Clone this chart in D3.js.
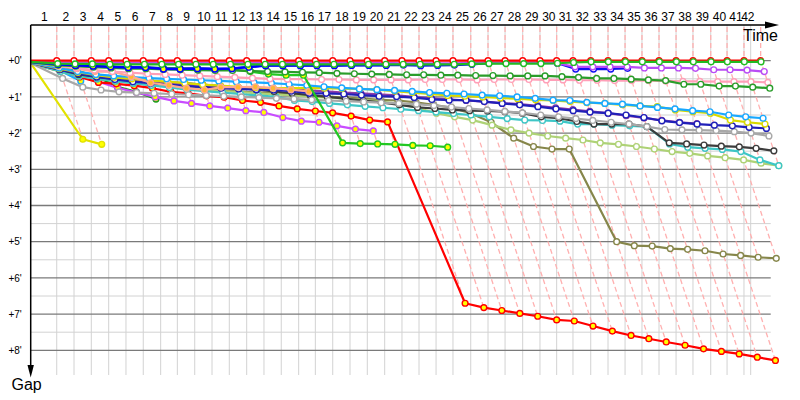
<!DOCTYPE html>
<html><head><meta charset="utf-8">
<script src="https://cdn.jsdelivr.net/npm/d3@7/dist/d3.min.js"></script>
<style>body{margin:0;background:#fff}svg{display:block}text{font-family:"Liberation Sans",Arial,sans-serif}</style>
</head><body><svg id="c" width="800" height="400"></svg>
<script>
// ---------- data ----------
const lapLabels = ["1","2","3","4","5","6","7","8","9","10","11","12","13","14","15","16","17","18","19","20","21","22","23","24","25","26","27","28","29","30","31","32","33","34","35","36","37","38","39","40","41","42"];
// leader cumulative time (minutes) at end of each lap, index 0 = start
const leaderTime = [0,2.17,3.61,5.05,6.50,7.94,9.38,10.83,12.22,13.67,15.11,16.55,18.00,19.44,20.88,22.33,23.72,25.17,26.61,28.05,29.50,30.94,32.36,33.78,35.19,36.67,38.11,39.53,41.00,42.44,43.83,45.19,46.67,48.11,49.53,50.94,52.36,53.78,55.19,56.67,58.03,59.44,60.83];
const raceEnd = 60;
const gapTicks = [0,1,2,3,4,5,6,7,8];
const gapTickLabels = ["+0'","+1'","+2'","+3'","+4'","+5'","+6'","+7'","+8'"];

// gaps to leader (minutes) per lap, index 0 = start
const gapLeader = [0,0,0,0,0,0,0,0,0,0,0,0,0,0,0,0,0,0,0,0,0,0,0,0,0,0,0,0,0,0,0,0,0,0,0,0,0,0,0,0,0,0,0];
const gapGreen = [0.03,0.08,0.09,0.09,0.1,0.1,0.1,0.1,0.1,0.1,0.1,0.1,0.1,0.1,0.1,0.1,0.1,0.1,0.1,0.1,0.1,0.1,0.1,0.1,0.1,0.09,0.08,0.08,0.08,0.08,0.07,0.05,0.03,0.03,0.03,0.03,0.03,0.03,0.03,0.03,0.03,0.03,0.03];
const gapPurple = [0.02,0.05,0.05,0.06,0.06,0.06,0.06,0.06,0.06,0.06,0.06,0.06,0.06,0.06,0.06,0.06,0.06,0.06,0.06,0.06,0.06,0.07,0.07,0.07,0.07,0.06,0.05,0.05,0.05,0.06,0.07,0.17,0.17,0.17,0.17,0.2,0.2,0.2,0.21,0.25,0.25,0.26,0.3];
const gapBlueY = [0.03,0.1,0.13,0.15,0.17,0.19,0.19,0.23,0.23,0.22,0.23,0.22,0.18,0.14,0.14,0.14,0.14,0.14,0.13,0.13,0.13];
const gapBlueW = [0.03,0.09,0.12,0.14,0.16,0.18,0.18,0.22,0.22,0.21,0.22,0.21,0.17,0.13,0.13,0.13,0.13,0.13,0.12,0.12,0.12,0.12,0.14,0.13,0.12,0.1,0.07,0.06,0.06,0.06,0.07,0.23,0.23,0.23,0.21];
const gapForest = [0.05,0.12,0.15,0.18,0.2,0.22,0.22,0.24,0.25,0.26,0.27,0.27,0.28,0.3,0.31,0.32,0.33,0.35,0.36,0.37,0.38,0.39,0.39,0.4,0.4,0.41,0.41,0.42,0.42,0.42,0.44,0.46,0.49,0.49,0.51,0.53,0.55,0.65,0.65,0.7,0.7,0.73,0.76];
const gapLime = [0.04,0.12,0.14,0.16,0.17,0.18,0.19,0.2,0.21,0.22,0.23,0.24,0.3,0.37,0.4,0.4,2.27,2.29,2.3,2.31,2.34,2.35,2.39];
const gapPink = [0.05,0.14,0.2,0.26,0.3,0.33,0.36,0.38,0.4,0.42,0.44,0.46,0.48,0.5,0.51,0.51,0.52,0.52,0.53,0.53,0.53,0.53,0.52,0.52,0.52,0.53,0.52,0.52,0.52,0.53,0.53,0.54,0.54,0.55,0.55,0.55,0.56,0.57,0.57,0.58,0.58,0.58,0.6];
const gapSalmon = [0.05,0.15,0.22,0.3,0.3,0.44,0.61,0.68,0.76,0.81,0.73,0.73,0.72,0.76,0.8,0.85];
const gapSkyY = [0.05,0.28,0.56];
const gapSky = [0.06,0.2,0.3,0.38,0.42,0.45,0.48,0.5,0.52,0.54,0.56,0.58,0.6,0.62,0.65,0.68,0.72,0.75,0.78,0.8,0.82,0.85,0.88,0.9,0.92,0.95,0.97,1.0,1.04,1.09,1.1,1.15,1.18,1.2,1.25,1.29,1.33,1.38,1.41,1.5,1.55,1.59];
const gapYellow = [0.06,0.22,0.32,0.4,0.46,0.5,0.55,0.58,0.62,0.66,0.69,0.72,0.74,0.76,0.76,0.76,0.76,0.77,0.78,0.8,0.84,0.88,0.92,0.96,0.98,1.0,1.03,1.05,1.08,1.1,1.13,1.16,1.18,1.22,1.25,1.27,1.36,1.41,1.45,1.64,1.7,1.75];
const gapIndigo = [0.06,0.25,0.35,0.45,0.52,0.58,0.62,0.66,0.7,0.73,0.76,0.78,0.8,0.81,0.84,0.9,0.9,0.92,0.95,0.98,0.99,1.02,1.07,1.09,1.09,1.13,1.18,1.22,1.27,1.33,1.38,1.42,1.45,1.5,1.57,1.66,1.71,1.75,1.78,1.8,1.84,1.87];
const gapOrchid = [0.06,0.24,0.33,0.42,0.48,0.54,0.58,0.62,0.66,0.7,0.73,0.75,0.77,0.79,0.8,0.82,0.85,0.88,0.9,0.93,0.96,1.0,1.04,1.07,1.1,1.13,1.17,1.2,1.25,1.3,1.35,1.4,1.45,1.52,1.58,1.65,1.7,1.74];
const gapGray = [0.08,0.49,0.73,0.81,0.86,0.88,0.9,0.92,0.94,0.96,0.98,1.0,1.02,1.04,1.06,1.08,1.1,1.12,1.14,1.16,1.18,1.2,1.24,1.28,1.32,1.36,1.4,1.44,1.5,1.55,1.6,1.65,1.7,1.75,1.82,1.9,1.91,1.92,1.93,1.96,2.0,2.08];
const gapBlack = [0.07,0.25,0.38,0.45,0.5,0.55,0.57,0.6,0.62,0.66,0.7,0.75,0.8,0.85,0.9,0.95,1.0,1.05,1.1,1.15,1.22,1.29,1.32,1.36,1.38,1.39,1.41,1.45,1.55,1.59,1.68,1.75,1.75,1.75,1.82,2.27,2.3,2.33,2.36,2.38,2.42,2.49];
const gapTeal = [0.07,0.3,0.42,0.5,0.56,0.62,0.68,0.74,0.8,0.84,0.88,0.92,0.96,1.0,1.1,1.13,1.18,1.22,1.26,1.3,1.34,1.38,1.42,1.46,1.5,1.55,1.6,1.64,1.65,1.67,1.75,1.75,1.78,1.8,1.82,2.3,2.39,2.42,2.45,2.51,2.74,2.9];
const gapLtGreen = [0.08,0.3,0.42,0.5,0.56,0.62,0.67,0.72,0.76,0.8,0.84,0.87,0.9,0.93,0.96,0.99,1.02,1.05,1.08,1.12,1.2,1.3,1.45,1.55,1.64,1.78,1.91,2.0,2.08,2.14,2.19,2.27,2.31,2.37,2.44,2.51,2.56,2.63,2.68,2.74,2.83,2.9];
const gapOlive = [0.08,0.3,0.42,0.5,0.56,0.62,0.66,0.7,0.74,0.78,0.82,0.85,0.88,0.9,0.93,0.96,0.99,1.02,1.05,1.08,1.1,1.15,1.22,1.3,1.45,1.7,2.14,2.37,2.44,2.44,5.0,5.11,5.12,5.19,5.21,5.25,5.34,5.38,5.43,5.46];
const gapRedY = [0.06,0.25,0.45,0.6,0.64,0.69,0.76,0.86,0.9,0.97,1.01,1.1,1.15,1.25,1.33,1.39,1.44,1.53,1.64,1.69,6.7,6.82,6.9,6.98,7.06,7.16,7.19,7.33,7.47,7.59,7.68,7.77,7.86,7.96,8.03,8.1,8.19,8.28];
const gapMagY = [0.06,0.22,0.4,0.58,0.75,0.88,1.0,1.11,1.18,1.25,1.31,1.38,1.43,1.57,1.67,1.7,1.8,1.89,1.94];
const gapGreenY = [0.05,0.14,0.28,0.44,0.72,0.86,1.06];
const gapYellowY = [0.12,2.17,2.31];

// series styling table (draw order)
const series = [
  {c:"#e2e200", f:"#ffff00", g:gapYellowY},
  {c:"#1a9a1a", f:"#ffff00", g:gapGreenY},
  {c:"#18a8ff", f:"#ffff00", g:gapSkyY},
  {c:"#c84cff", f:"#ffff00", g:gapMagY},
  {c:"#ff0000", f:"#ffff00", g:gapRedY},
  {c:"#86864a", f:"#ffffff", g:gapOlive},
  {c:"#aed276", f:"#ffffff", g:gapLtGreen},
  {c:"#3ec6c6", f:"#ffffff", g:gapTeal},
  {c:"#3c3c3c", f:"#ffffff", g:gapBlack},
  {c:"#a8a8a8", f:"#ffffff", g:gapGray},
  {c:"#8e3aa8", f:"#ffffff", g:gapOrchid},
  {c:"#2020b8", f:"#ffffff", g:gapIndigo},
  {c:"#dada00", f:"#ffffff", g:gapYellow},
  {c:"#18a8ff", f:"#ffffff", g:gapSky},
  {c:"#ffa890", f:"#ffb830", g:gapSalmon},
  {c:"#ff9fb8", f:"#ffffff", g:gapPink},
  {c:"#22c822", f:"#ffff00", g:gapLime},
  {c:"#2a9d2a", f:"#ffffff", g:gapForest},
  {c:"#1010f0", f:"#ffffff", g:gapBlueW},
  {c:"#0000ff", f:"#ffff00", g:gapBlueY},
  {c:"#b94cf5", f:"#ffffff", g:gapPurple},
  {c:"#ff0000", f:"#ffffff", g:gapLeader},
  {c:"#22bb22", f:"#ffffff", g:gapGreen}
];

// ---------- chart ----------
const svg = d3.select("#c");
const x = d3.scaleLinear().domain([0, 62]).range([30.7, 774.7]);
const y = d3.scaleLinear().domain([0, 8]).range([60.7, 350.3]);
const axisY = 25, plotBottom = 375, gridRight = x(61.67);

// vertical grid at leader lap times (before race end) + race end
const vTimes = leaderTime.slice(1).filter(t => t < raceEnd).concat([raceEnd]);
svg.append("g").selectAll("line").data(vTimes).join("line")
  .attr("x1", d => x(d)).attr("x2", d => x(d))
  .attr("y1", axisY).attr("y2", plotBottom)
  .attr("stroke", "#d2d2d2").attr("stroke-width", 1);

// horizontal grid
const hVals = d3.range(0, 8.001, 0.5);
svg.append("g").selectAll("line").data(hVals).join("line")
  .attr("x1", x(0)).attr("x2", gridRight)
  .attr("y1", d => y(d)).attr("y2", d => y(d))
  .attr("stroke", d => Number.isInteger(d) ? "#7a7a7a" : "#d2d2d2")
  .attr("stroke-width", d => Number.isInteger(d) ? 1.3 : 1);

// dashed lap lines (each lap: all cars' points lie on one line)
const lapIdx = d3.range(1, leaderTime.length);
const lapMax = lapIdx.map(i => d3.max(series, s => s.g.length > i ? s.g[i] : undefined));
svg.append("g").selectAll("path").data(lapIdx).join("path")
  .attr("d", (i, k) => {
    const t = leaderTime[i], g = lapMax[k];
    return `M${x(t)},${axisY + 2}L${x(t)},${y(0)}L${x(t + g)},${y(g)}`;
  })
  .attr("fill", "none").attr("stroke", "#ffb0b0").attr("stroke-width", 1.3)
  .attr("stroke-dasharray", "5,3");

// series
const line = d3.line().x(d => x(d[0])).y(d => y(d[1]));
series.forEach(s => {
  const pts = s.g.map((g, i) => [leaderTime[i] + g, g]);
  const gr = svg.append("g");
  gr.append("path").datum(pts).attr("d", line)
    .attr("fill", "none").attr("stroke", s.c).attr("stroke-width", 2.2)
    .attr("stroke-linejoin", "round");
  gr.selectAll("circle").data(pts.slice(1)).join("circle")
    .attr("cx", d => x(d[0])).attr("cy", d => y(d[1])).attr("r", 2.9)
    .attr("fill", s.f).attr("stroke", s.c).attr("stroke-width", 1.4);
});

// x axis (top): lap labels centred between consecutive grid lines
const edges = [0].concat(vTimes);
const midTimes = lapLabels.map((d, i) => (edges[i] + edges[i + 1]) / 2);
const xAxis = d3.axisTop(x).tickValues(midTimes).tickFormat((d, i) => lapLabels[i]).tickSize(0).tickPadding(4);
const gx = svg.append("g").attr("transform", `translate(0,${axisY})`).call(xAxis);
gx.select(".domain").remove();
gx.selectAll("text").attr("font-size", 12).attr("fill", "#000").style("font-family", '"Liberation Sans",Arial,sans-serif');
svg.append("line").attr("x1", x(0)).attr("x2", 770).attr("y1", axisY).attr("y2", axisY)
  .attr("stroke", "#000").attr("stroke-width", 1.5);
svg.append("path").attr("d", `M765,${axisY - 3.5}L779,${axisY}L765,${axisY + 3.5}Z`).attr("fill", "#000");
svg.append("text").attr("x", 743).attr("y", 40.5).attr("font-size", 16).text("Time");

// y axis (left)
const yAxis = d3.axisLeft(y).tickValues(gapTicks).tickFormat((d, i) => gapTickLabels[i]).tickSize(0).tickPadding(9);
const gy = svg.append("g").attr("transform", `translate(${x(0)},0)`).call(yAxis);
gy.select(".domain").remove();
gy.selectAll("text").attr("font-size", 10).attr("fill", "#000").style("font-family", '"Liberation Sans",Arial,sans-serif');
svg.append("line").attr("x1", x(0)).attr("x2", x(0)).attr("y1", axisY).attr("y2", 368)
  .attr("stroke", "#000").attr("stroke-width", 1.5);
svg.append("path").attr("d", `M${x(0) - 3.2},365L${x(0)},377.5L${x(0) + 3.2},365Z`).attr("fill", "#000");
svg.append("text").attr("x", 11.5).attr("y", 390).attr("font-size", 16).text("Gap");
</script></body></html>
